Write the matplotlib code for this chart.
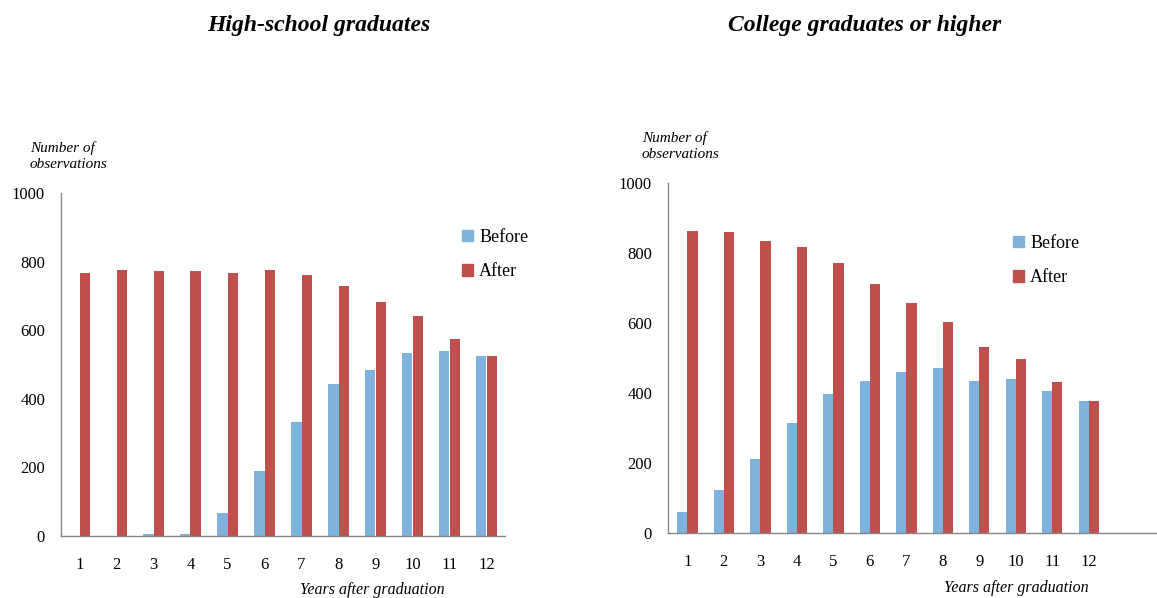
import matplotlib
matplotlib.use("Agg")
import matplotlib.pyplot as plt
import numpy as np
from matplotlib.patches import Patch

plt.rcParams["font.family"] = ["Liberation Serif", "DejaVu Serif"]

years = list(range(1, 13))

# High-school graduates
hs_before = [0, 0, 5, 5, 65, 189, 333, 444, 483, 534, 538, 524]
hs_after = [766, 775, 771, 771, 766, 775, 762, 729, 682, 640, 575, 524]

# College graduates or higher
col_before = [60, 122, 210, 313, 397, 434, 459, 472, 434, 439, 405, 375]
col_after = [863, 858, 833, 817, 771, 712, 655, 601, 530, 496, 430, 375]

BLUE = "#7FB3DD"
RED = "#C0504D"
AXIS_GRAY = "#868686"
W = 0.28

fig = plt.figure(figsize=(11.57, 5.98), dpi=100)


def panel(rect, before, after, xlim, title, title_x, ylab_xy, leg_xy):
    ax = fig.add_axes(rect)
    x = np.array(years)
    ax.bar(x - W / 2, before, width=W, color=BLUE, linewidth=0)
    ax.bar(x + W / 2, after, width=W, color=RED, linewidth=0)
    ax.set_xlim(*xlim)
    ax.set_ylim(0, 1000)
    ax.set_yticks([0, 200, 400, 600, 800, 1000])
    ax.set_xticks(years)
    ax.tick_params(axis="both", length=0, labelsize=12)
    ax.tick_params(axis="y", pad=11.5)
    ax.tick_params(axis="x", pad=15)
    for s in ["top", "right"]:
        ax.spines[s].set_visible(False)
    for s in ["left", "bottom"]:
        ax.spines[s].set_color(AXIS_GRAY)
        ax.spines[s].set_linewidth(1.0)
    fig.text(title_x, 1 - 26 / 598, title, ha="center", va="center",
             fontsize=17, fontweight="bold", fontstyle="italic")
    fig.text(ylab_xy[0], ylab_xy[1], "Number of\nobservations", ha="left", va="center",
             fontsize=11, fontstyle="italic", linespacing=1.25)
    handles = [Patch(color=BLUE, label="Before"), Patch(color=RED, label="After")]
    fig.legend(handles=handles, loc="upper left", bbox_to_anchor=leg_xy,
               frameon=False, fontsize=13, handlelength=0.6, handleheight=0.6,
               handletextpad=0.35, labelspacing=0.95, borderpad=0, borderaxespad=0)
    return ax


ax1 = panel([61 / 1157, 62.3 / 598, 444 / 1157, 342.7 / 598], hs_before, hs_after,
            (0.5, 12.5), "High-school graduates", 318.5 / 1157,
            (30 / 1157, 1 - 156 / 598), (462 / 1157, 1 - 229 / 598))
fig.text(372 / 1157, 1 - 590 / 598, "Years after graduation", ha="center", va="center",
         fontsize=11.5, fontstyle="italic")

ax2 = panel([668 / 1157, 65.3 / 598, 489 / 1157, 350 / 598], col_before, col_after,
            (0.47, 13.87), "College graduates or higher", 865 / 1157,
            (642 / 1157, 1 - 146 / 598), (1013 / 1157, 1 - 235 / 598))
fig.text(1016 / 1157, 1 - 588 / 598, "Years after graduation", ha="center", va="center",
         fontsize=11.5, fontstyle="italic")

fig.savefig("out.png", dpi=100)
